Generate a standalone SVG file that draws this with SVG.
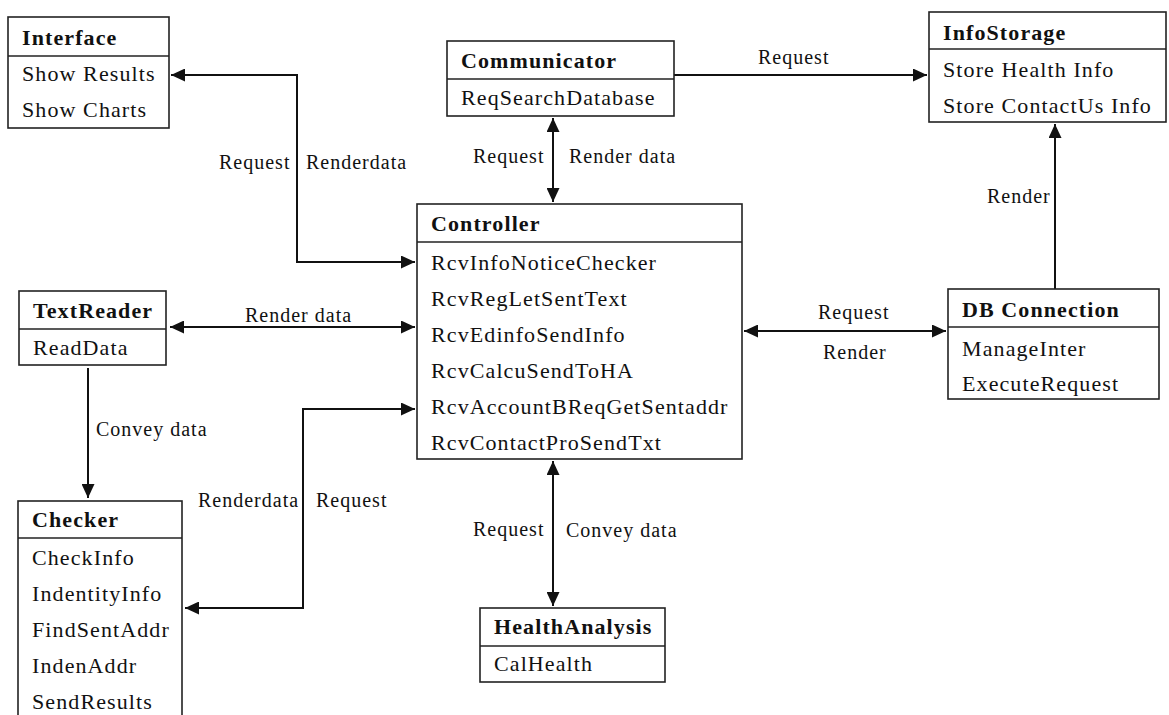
<svg xmlns="http://www.w3.org/2000/svg" width="1169" height="715" viewBox="0 0 1169 715">
  <style>
    .box { fill: #fff; stroke: #222; stroke-width: 1.6; }
    .div { stroke: #222; stroke-width: 1.6; }
    .t { font-family: "Liberation Serif", "Times New Roman", serif; font-size: 22px; letter-spacing: 1.1px; fill: #111; }
    .h { font-weight: bold; }
    .lbl { font-family: "Liberation Serif", "Times New Roman", serif; font-size: 20px; letter-spacing: 1px; fill: #111; }
    .c { fill: none; stroke: #111; stroke-width: 2; }
  </style>
  <defs>
    <marker id="arr" markerUnits="userSpaceOnUse" markerWidth="15" markerHeight="13" refX="14" refY="6.5" orient="auto-start-reverse">
      <path d="M0,0 L14,6.5 L0,13 z" fill="#111"/>
    </marker>
  </defs>
  <rect width="1169" height="715" fill="#fff"/>

  <!-- connectors and their labels -->
  <g id="connectors">
    <path class="c" d="M415,262 H297 V75 H171" marker-start="url(#arr)" marker-end="url(#arr)"/>
    <path class="c" d="M553,118 V202" marker-start="url(#arr)" marker-end="url(#arr)"/>
    <path class="c" d="M674,75 H927" marker-end="url(#arr)"/>
    <path class="c" d="M1055,289 V124" marker-end="url(#arr)"/>
    <path class="c" d="M744,331 H946" marker-start="url(#arr)" marker-end="url(#arr)"/>
    <path class="c" d="M170,327 H415" marker-start="url(#arr)" marker-end="url(#arr)"/>
    <path class="c" d="M88,368 V498" marker-end="url(#arr)"/>
    <path class="c" d="M415,409 H303 V608 H185" marker-start="url(#arr)" marker-end="url(#arr)"/>
    <path class="c" d="M553,461 V606" marker-start="url(#arr)" marker-end="url(#arr)"/>

    <text class="lbl" x="219" y="169">Request</text>
    <text class="lbl" x="306" y="169">Renderdata</text>
    <text class="lbl" x="473" y="163">Request</text>
    <text class="lbl" x="569" y="163">Render data</text>
    <text class="lbl" x="758" y="64">Request</text>
    <text class="lbl" x="987" y="203">Render</text>
    <text class="lbl" x="818" y="319">Request</text>
    <text class="lbl" x="823" y="359">Render</text>
    <text class="lbl" x="245" y="322">Render data</text>
    <text class="lbl" x="96" y="436">Convey data</text>
    <text class="lbl" x="198" y="507">Renderdata</text>
    <text class="lbl" x="316" y="507">Request</text>
    <text class="lbl" x="473" y="536">Request</text>
    <text class="lbl" x="566" y="537">Convey data</text>
  </g>

  <g id="interface">
    <rect class="box" x="8" y="17" width="161" height="111"/>
    <line class="div" x1="8" y1="56" x2="169" y2="56"/>
    <text class="t h" x="22" y="45">Interface</text>
    <text class="t" x="22" y="81">Show Results</text>
    <text class="t" x="22" y="117">Show Charts</text>
  </g>

  <g id="communicator">
    <rect class="box" x="447" y="41" width="227" height="75"/>
    <line class="div" x1="447" y1="79" x2="674" y2="79"/>
    <text class="t h" x="461" y="68">Communicator</text>
    <text class="t" x="461" y="105">ReqSearchDatabase</text>
  </g>

  <g id="infostorage">
    <rect class="box" x="929" y="12" width="237" height="110"/>
    <line class="div" x1="929" y1="49" x2="1166" y2="49"/>
    <text class="t h" x="943" y="40">InfoStorage</text>
    <text class="t" x="943" y="77">Store Health Info</text>
    <text class="t" x="943" y="113">Store ContactUs Info</text>
  </g>

  <g id="controller">
    <rect class="box" x="417" y="204" width="325" height="255"/>
    <line class="div" x1="417" y1="242" x2="742" y2="242"/>
    <text class="t h" x="431" y="231">Controller</text>
    <text class="t" x="431" y="270">RcvInfoNoticeChecker</text>
    <text class="t" x="431" y="306">RcvRegLetSentText</text>
    <text class="t" x="431" y="342">RcvEdinfoSendInfo</text>
    <text class="t" x="431" y="378">RcvCalcuSendToHA</text>
    <text class="t" x="431" y="414">RcvAccountBReqGetSentaddr</text>
    <text class="t" x="431" y="450">RcvContactProSendTxt</text>
  </g>

  <g id="textreader">
    <rect class="box" x="19" y="291" width="147" height="74"/>
    <line class="div" x1="19" y1="329" x2="166" y2="329"/>
    <text class="t h" x="33" y="318">TextReader</text>
    <text class="t" x="33" y="355">ReadData</text>
  </g>

  <g id="dbconnection">
    <rect class="box" x="948" y="289" width="211" height="110"/>
    <line class="div" x1="948" y1="327" x2="1159" y2="327"/>
    <text class="t h" x="962" y="317">DB Connection</text>
    <text class="t" x="962" y="356">ManageInter</text>
    <text class="t" x="962" y="391">ExecuteRequest</text>
  </g>

  <g id="checker">
    <rect class="box" x="18" y="501" width="164" height="230"/>
    <line class="div" x1="18" y1="538" x2="182" y2="538"/>
    <text class="t h" x="32" y="527">Checker</text>
    <text class="t" x="32" y="565">CheckInfo</text>
    <text class="t" x="32" y="601">IndentityInfo</text>
    <text class="t" x="32" y="637">FindSentAddr</text>
    <text class="t" x="32" y="673">IndenAddr</text>
    <text class="t" x="32" y="709">SendResults</text>
  </g>

  <g id="healthanalysis">
    <rect class="box" x="480" y="608" width="185" height="74"/>
    <line class="div" x1="480" y1="646" x2="665" y2="646"/>
    <text class="t h" x="494" y="634">HealthAnalysis</text>
    <text class="t" x="494" y="671">CalHealth</text>
  </g>
</svg>
